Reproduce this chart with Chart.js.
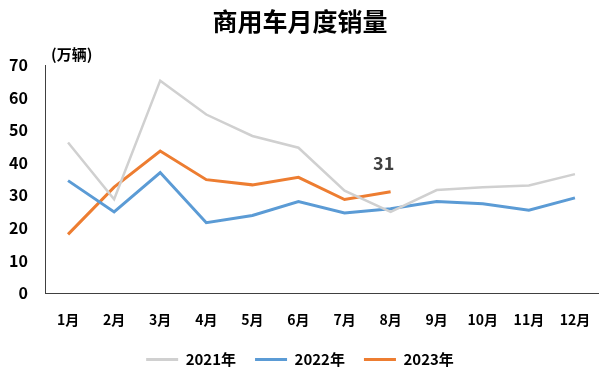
<!DOCTYPE html>
<html>
<head>
<meta charset="utf-8">
<script src="https://cdn.jsdelivr.net/npm/chart.js@4"></script>
<style>
  html, body { margin: 0; padding: 0; background: #fff; }
</style>
</head>
<body>
<canvas id="myChart" width="600" height="373"></canvas>
<script>
const months = ['1月', '2月', '3月', '4月', '5月', '6月', '7月', '8月', '9月', '10月', '11月', '12月'];
const sales2021 = [46.2, 28.8, 65.2, 54.8, 48.2, 44.6, 31.4, 24.9, 31.6, 32.5, 33.0, 36.5];
const sales2022 = [34.5, 24.9, 37.0, 21.6, 23.8, 28.1, 24.6, 25.9, 28.1, 27.4, 25.4, 29.2];
const sales2023 = [18.0, 32.5, 43.6, 34.8, 33.2, 35.5, 28.7, 31.1];
const yTicks = [0, 10, 20, 30, 40, 50, 60, 70];
const unitLabel = '(万辆)';
const lastLabel = '31';

const FONT = '"Noto Sans CJK SC", "Noto Sans", sans-serif';

// unit text + value label on the last 2023 point
const extraText = {
    id: 'extraText',
    afterDatasetsDraw(chart) {
        const ctx = chart.ctx;
        const area = chart.chartArea;
        ctx.save();
        ctx.fillStyle = '#000';
        ctx.font = 'bold 15px ' + FONT;
        ctx.textAlign = 'left';
        ctx.textBaseline = 'middle';
        ctx.fillText(unitLabel, area.left + 6, area.top - 11);

        const meta = chart.getDatasetMeta(2);
        const pt = meta.data[meta.data.length - 1];
        ctx.fillStyle = '#404040';
        ctx.font = 'bold 18px ' + FONT;
        ctx.textAlign = 'center';
        ctx.fillText(lastLabel, pt.x - 7, pt.y - 29);
        ctx.restore();
    }
};

const data = {
    labels: months,
    datasets: [
        {
            label: '2021年',
            data: sales2021,
            borderColor: '#d0d0d0',
            backgroundColor: '#d0d0d0',
            borderWidth: 2.5,
            pointRadius: 0,
            tension: 0
        },
        {
            label: '2022年',
            data: sales2022,
            borderColor: '#5b9bd5',
            backgroundColor: '#5b9bd5',
            borderWidth: 3,
            pointRadius: 0,
            tension: 0
        },
        {
            label: '2023年',
            data: sales2023,
            borderColor: '#ed7d31',
            backgroundColor: '#ed7d31',
            borderWidth: 3,
            pointRadius: 0,
            tension: 0
        }
    ]
};

const config = {
    type: 'line',
    data: data,
    options: {
        responsive: false,
        animation: false,
        layout: { padding: { left: 0, right: 0, top: 0, bottom: -4 } },
        plugins: {
            title: {
                display: true,
                text: '商用车月度销量',
                color: '#000',
                font: { family: FONT, size: 25, weight: 'bold' },
                padding: { top: 6, bottom: 29 }
            },
            legend: {
                display: true,
                position: 'bottom',
                labels: {
                    color: '#000',
                    font: { family: FONT, size: 15, weight: 'bold' },
                    boxWidth: 32,
                    boxHeight: 3,
                    padding: 19,
                    generateLabels(chart) {
                        const items = Chart.defaults.plugins.legend.labels.generateLabels(chart);
                        items.forEach(it => { it.lineWidth = 0; });
                        return items;
                    }
                }
            },
            tooltip: { enabled: false }
        },
        scales: {
            x: {
                offset: true,
                grid: { display: false, drawTicks: false },
                border: { display: true, color: '#404040', width: 1 },
                afterFit(axis) {
                    axis.height = 40;
                    axis.paddingLeft = 0;
                    axis.paddingRight = 2;
                },
                ticks: {
                    color: '#000',
                    padding: 18,
                    font: { family: FONT, size: 14, weight: 'bold' },
                    maxRotation: 0,
                    autoSkip: false
                }
            },
            y: {
                min: yTicks[0],
                max: yTicks[yTicks.length - 1],
                afterBuildTicks(axis) {
                    axis.ticks = yTicks.map(v => ({ value: v }));
                },
                afterFit(axis) { axis.width = 45; },
                grid: { display: false, drawTicks: false },
                border: { display: true, color: '#404040', width: 1 },
                ticks: {
                    color: '#000',
                    padding: 17,
                    font: { family: FONT, size: 16, weight: 'bold' }
                }
            }
        }
    },
    plugins: [extraText]
};

Chart.defaults.animation = false;

new Chart(document.getElementById('myChart'), config);
</script>
</body>
</html>
